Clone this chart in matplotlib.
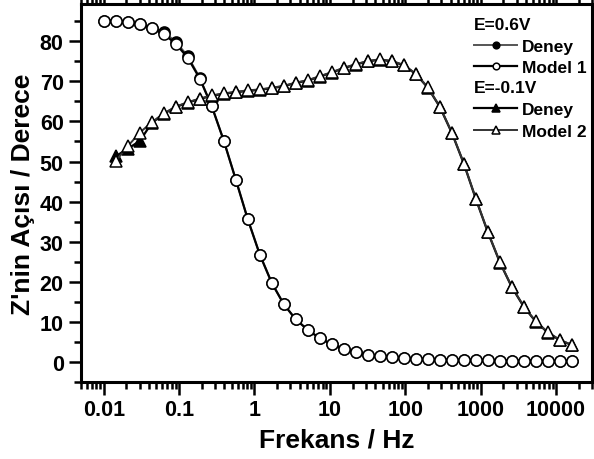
import matplotlib as mpl
mpl.use("Agg")
import matplotlib.pyplot as plt
from matplotlib.ticker import MultipleLocator, LogLocator, FixedLocator, FixedFormatter, NullFormatter

plt.rcParams['font.family'] = ['Liberation Sans', 'DejaVu Sans']
plt.rcParams['font.weight'] = 'bold'

# frequencies (Hz)
freq = [0.01, 0.01443, 0.02082, 0.03005, 0.04336, 0.06257, 0.0903, 0.1303, 0.188, 0.2713,
        0.3915, 0.565, 0.815, 1.176, 1.697, 2.449, 3.534, 5.1, 7.36, 10.62,
        15.33, 22.12, 31.9, 46.05, 66.45, 95.9, 138.4, 199.7, 288, 416,
        600, 866, 1250, 1803, 2602, 3755, 5418, 7819, 11283, 16281]

# E=0.6V
deney1 = [85.1, 85.1, 84.8, 84.3, 83.4, 82.3, 79.9, 76.3, 70.9, 63.8,
          55.2, 45.5, 35.6, 26.8, 19.7, 14.4, 10.6, 8.0, 5.9, 4.4,
          3.3, 2.5, 1.8, 1.4, 1.2, 1.0, 0.8, 0.7, 0.6, 0.5,
          0.5, 0.4, 0.4, 0.3, 0.3, 0.3, 0.3, 0.2, 0.2, 0.2]
model1 = [85.1, 85.1, 84.8, 84.3, 83.3, 81.8, 79.4, 75.9, 70.7, 63.8,
          55.2, 45.5, 35.6, 26.8, 19.7, 14.4, 10.6, 8.0, 5.9, 4.4,
          3.3, 2.5, 1.8, 1.4, 1.2, 1.0, 0.8, 0.7, 0.6, 0.5,
          0.5, 0.4, 0.4, 0.3, 0.3, 0.3, 0.3, 0.2, 0.2, 0.2]

# E=-0.1V (starts at second frequency)
freq2 = freq[1:]
deney2 = [51.3, 53.2, 55.1, 59.6, 61.9, 63.6, 64.7, 65.6, 66.4, 66.9,
          67.3, 67.6, 67.9, 68.3, 68.8, 69.6, 70.2, 71.2, 72.2, 73.3,
          74.2, 75.0, 75.4, 75.0, 74.0, 71.8, 68.4, 63.6, 57.1, 49.4,
          40.6, 32.3, 24.8, 18.6, 13.7, 10.0, 7.3, 5.4, 4.2]
model2 = [50.1, 53.8, 57.2, 59.8, 62.0, 63.7, 64.8, 65.7, 66.5, 67.0,
          67.4, 67.75, 68.0, 68.4, 68.9, 69.7, 70.3, 71.3, 72.3, 73.4,
          74.3, 75.1, 75.5, 75.1, 74.1, 71.9, 68.5, 63.7, 57.2, 49.5,
          40.7, 32.4, 24.9, 18.7, 13.8, 10.1, 7.4, 5.5, 4.25]

fig = plt.figure(figsize=(5.94, 4.60), dpi=100)
ax = fig.add_axes([81/594, 1-383/460, 511/594, 378/460])

ms = 8
d1, = ax.plot(freq, deney1, '-', color='#555555', lw=1.4, marker='o', ms=ms,
              mfc='black', mec='black', mew=1.1)
m1, = ax.plot(freq, model1, '-', color='black', lw=1.6, marker='o', ms=ms,
              mfc='white', mec='black', mew=1.1)
d2, = ax.plot(freq2, deney2, '-', color='black', lw=1.6, marker='^', ms=ms+1,
              mfc='black', mec='black', mew=1.1)
m2, = ax.plot(freq2, model2, '-', color='#333333', lw=1.4, marker='^', ms=ms+1,
              mfc='white', mec='black', mew=1.1)

ax.set_xscale('log')
ax.set_xlim(0.005, 30000)
ax.set_ylim(-5, 89.3)

xt = [0.01, 0.1, 1, 10, 100, 1000, 10000]
xtl = ['0.01', '0.1', '1', '10', '100', '1000', '10000']
ax.xaxis.set_major_locator(FixedLocator(xt))
ax.xaxis.set_major_formatter(FixedFormatter(xtl))
ax.xaxis.set_minor_locator(LogLocator(base=10, subs=range(2, 10), numticks=20))
ax.xaxis.set_minor_formatter(NullFormatter())
ax.yaxis.set_major_locator(MultipleLocator(10))
ax.yaxis.set_minor_locator(MultipleLocator(5))

ax.tick_params(which='both', direction='out', top=True, right=False, width=1.8, labelsize=15.5)
ax.tick_params(which='major', length=9)
ax.tick_params(which='minor', length=5)
for s in ax.spines.values():
    s.set_linewidth(2.2)

ax.set_xlabel('Frekans / Hz', fontsize=19, fontweight='bold', labelpad=5)
ax.set_ylabel("Z'nin Açısı / Derece", fontsize=19, fontweight='bold', labelpad=3)

lkw = dict(loc='upper left', frameon=False, borderpad=0, borderaxespad=0,
           handlelength=2.5, handletextpad=0.25, labelspacing=0.38, markerscale=0.6,
           prop={'size': 12.5, 'weight': 'bold'}, alignment='left',
           title_fontproperties={'size': 12.5, 'weight': 'bold'})
leg1 = ax.legend([d1, m1], ['Deney', 'Model 1'], title='E=0.6V',
                 bbox_to_anchor=(0.769, 0.966), **lkw)
ax.add_artist(leg1)
ax.legend([d2, m2], ['Deney', 'Model 2'], title='E=-0.1V',
          bbox_to_anchor=(0.769, 0.798), **lkw)

plt.savefig('out.png', dpi=100)
plt.close()
